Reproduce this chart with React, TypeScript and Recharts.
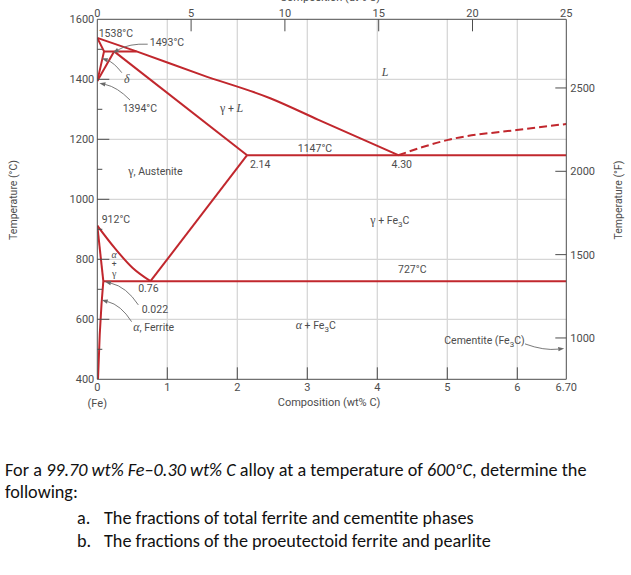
import React from "react";
import { ComposedChart, Line, XAxis, YAxis, CartesianGrid, ReferenceDot, ReferenceLine } from "recharts";

const RED = "#c1272d";
const INK = "#4d4d4d";
const SANS = "Roboto, 'Liberation Sans', sans-serif";
const SERIF = "'Liberation Serif', 'DejaVu Serif', serif";

// phase boundaries as [wt% C, °C]
const liquidus = [[0, 1538], [0.56, 1493], [1.5, 1414], [2.47, 1337], [3.16, 1265], [4.3, 1147]];
const liquidusFe3C = [[4.3, 1147], [4.66, 1175], [5.01, 1198], [5.99, 1231], [6.7, 1251]];
const deltaBound = [[0, 1538], [0.096, 1493], [0, 1394]];
const deltaGamma = [[0, 1394], [0.24, 1493]];
const peritectic = [[0.096, 1493], [0.56, 1493]];
const solidus = [[0.24, 1493], [2.14, 1147]];
const eutectic = [[2.14, 1147], [6.7, 1147]];
const a3 = [[0, 912], [0.25, 837], [0.51, 770], [0.76, 727]];
const acm = [[0.76, 727], [2.14, 1147]];
const ferriteSide = [[0, 912], [0.086, 727]];
const ferriteSolvus = [[0.086, 727], [0.06, 650], [0.035, 550], [0.01, 400]];
const eutectoid = [[0.086, 727], [6.7, 727]];

const wtTicks = [0, 1, 2, 3, 4, 5, 6, 6.7];
const atTicks = [0, 5, 10, 15, 20, 25];
const cTicks = [400, 500, 600, 700, 800, 900, 1000, 1100, 1200, 1300, 1400, 1500, 1600];
const fTicks = [1000, 1500, 2000, 2500];
const gridWt = [1, 2, 3, 4, 5, 6];
const gridC = [600, 800, 1000, 1200, 1400];
const WT_MAX = 6.7;
const AT_MAX = 25;

const labels = [
  { w: 0.02, t: 1555, text: "1538°C", anchor: "start" },
  { w: 0.75, t: 1522, text: "1493°C", anchor: "start" },
  { w: 0.42, t: 1401, text: "δ", anchor: "middle" },
  { w: 0.363, t: 1303, text: "1394°C", anchor: "start" },
  { w: 1.92, t: 1303, text: "γ + L", anchor: "middle" },
  { w: 4.11, t: 1422, text: "L", anchor: "middle" },
  { w: 3.11, t: 1170, text: "1147°C", anchor: "middle" },
  { w: 2.18, t: 1117, text: "2.14", anchor: "start" },
  { w: 4.35, t: 1117, text: "4.30", anchor: "middle" },
  { w: 0.83, t: 1095, text: "γ, Austenite", anchor: "middle" },
  { w: 0.063, t: 933, text: "912°C", anchor: "start" },
  { w: 4.18, t: 931, text: "γ + Fe3C", anchor: "middle" },
  { w: 0.24, t: 814, text: "α", anchor: "middle", size: 8.5 },
  { w: 0.24, t: 783, text: "+", anchor: "middle", size: 8.5 },
  { w: 0.24, t: 750, text: "γ", anchor: "middle", size: 8.5 },
  { w: 0.73, t: 704, text: "0.76", anchor: "middle" },
  { w: 0.634, t: 634, text: "0.022", anchor: "start" },
  { w: 0.514, t: 575, text: "α, Ferrite", anchor: "start" },
  { w: 4.5, t: 768, text: "727°C", anchor: "middle" },
  { w: 3.12, t: 581, text: "α + Fe3C", anchor: "middle" },
  { w: 5.53, t: 531, text: "Cementite (Fe3C)", anchor: "middle" },
];

const arrows = [
  { from: [0.72, 1517], to: [0.224, 1488], bend: 0.15 },
  { from: [0.35, 1422], to: [0.063, 1470], bend: 0.15 },
  { from: [0.467, 1331], to: [0.03, 1387], bend: 0.15 },
  { from: [0.586, 648], to: [0.11, 725], bend: 0.2 },
  { from: [0.49, 592], to: [0.063, 664], bend: 0.2 },
  { from: [6.11, 518], to: [6.67, 503], bend: 0.12 },
];

const boundaries = [
  { d: liquidus, curve: "monotone" },
  { d: liquidusFe3C, curve: "monotone", dash: "8 4" },
  { d: deltaBound, curve: "linear" },
  { d: deltaGamma, curve: "linear" },
  { d: peritectic, curve: "linear" },
  { d: solidus, curve: "linear" },
  { d: eutectic, curve: "linear" },
  { d: a3, curve: "monotone" },
  { d: acm, curve: "linear" },
  { d: ferriteSide, curve: "linear" },
  { d: ferriteSolvus, curve: "linear" },
  { d: eutectoid, curve: "linear" },
];

const pts = (a: number[][]) => a.map(([w, t]) => ({ w, t }));

function rich(s: string, size: number) {
  const parts = s.split(/(Fe3C|[αγδ]|\bL\b)/).filter(Boolean);
  return parts.map((p, i) => {
    if (p === "Fe3C")
      return (
        <tspan key={i}>
          Fe<tspan dy={3} fontSize={8}>3</tspan>
          <tspan dy={-3}>C</tspan>
        </tspan>
      );
    if (p === "α" || p === "δ" || p === "L")
      return <tspan key={i} fontFamily={SERIF} fontStyle="italic" fontSize={size + 1.5}>{p}</tspan>;
    if (p === "γ") return <tspan key={i} fontFamily={SERIF} fontSize={size + 1.5}>{p}</tspan>;
    return <tspan key={i}>{p}</tspan>;
  });
}

const labelShape = (text: string, anchor: string, size = 10.5) => (p: any) => (
  <text x={p.cx} y={p.cy + size * 0.36} textAnchor={anchor} fontFamily={SANS} fontSize={size} fill={INK}>
    {rich(text, size)}
  </text>
);

const arrowShape = (bend: number) => (p: any) => {
  const { x1, y1, x2, y2 } = p;
  const dx = x2 - x1, dy = y2 - y1;
  const len = Math.hypot(dx, dy) || 1;
  const cx = (x1 + x2) / 2 - (dy / len) * bend * len;
  const cy = (y1 + y2) / 2 + (dx / len) * bend * len;
  const tx = x2 - cx, ty = y2 - cy;
  const tl = Math.hypot(tx, ty) || 1;
  const ux = tx / tl, uy = ty / tl;
  const bx = x2 - ux * 6, by = y2 - uy * 6;
  return (
    <g>
      <path d={`M${x1},${y1} Q${cx},${cy} ${bx},${by}`} fill="none" stroke="#6a6a6a" strokeWidth={0.9} />
      <path d={`M${x2},${y2} L${bx - uy * 2.2},${by + ux * 2.2} L${bx + uy * 2.2},${by - ux * 2.2} Z`} fill="#6a6a6a" />
    </g>
  );
};

const tickText = { fontFamily: SANS, fontSize: 11, fill: INK };

const BottomTick = ({ x, y, payload }: any) => {
  const v = payload.value;
  return (
    <g>
      {v > 0 && v < 6.7 && <line x1={x} y1={y} x2={x} y2={y - 12} stroke={INK} strokeWidth={1} />}
      <text x={x} y={y + 12} textAnchor="middle" {...tickText}>{v === 6.7 ? "6.70" : v}</text>
      {v === 0 && <text x={x} y={y + 28} textAnchor="middle" {...tickText}>(Fe)</text>}
    </g>
  );
};

// top at% ticks, placed on the top edge of the plot through the chart's scales
const topTickShape = (v: number) => (p: any) => (
  <g>
    {v > 0 && v < AT_MAX && <line x1={p.cx} y1={p.cy} x2={p.cx} y2={p.cy + 12} stroke={INK} strokeWidth={1} />}
    <text x={p.cx} y={p.cy - 2} textAnchor="middle" {...tickText}>{v}</text>
  </g>
);

const LeftTick = ({ x, y, payload }: any) => {
  const v = payload.value;
  const major = v % 200 === 0;
  return (
    <g>
      {v > 400 && v < 1600 && <line x1={x} y1={y} x2={x + (major ? 12 : 5)} y2={y} stroke={INK} strokeWidth={1} />}
      {major && <text x={x - 3} y={y + 4} textAnchor="end" {...tickText}>{v}</text>}
    </g>
  );
};

const RightTick = ({ x, y, payload }: any) => (
  <g>
    <line x1={x} y1={y} x2={x - 11} y2={y} stroke={INK} strokeWidth={1} />
    <text x={x + 4} y={y + 4} textAnchor="start" {...tickText}>{payload.value}</text>
  </g>
);

const qStyle: React.CSSProperties = {
  position: "absolute",
  fontFamily: "Carlito, Lato, sans-serif",
  fontSize: 18.2,
  lineHeight: "22px",
  color: "#111",
  whiteSpace: "nowrap",
};

export default function App() {
  return (
    <div style={{ position: "absolute", left: 0, top: 0, width: 631, height: 575, background: "#fff" }}>
      <ComposedChart width={631} height={575} margin={{ top: 9.3, right: 24.7, bottom: 165.7, left: 57.3 }}>
        <CartesianGrid verticalValues={gridWt} horizontalValues={gridC} stroke="#d6d6d6" strokeWidth={1.3} />
        <XAxis
          type="number" dataKey="w" domain={[0, WT_MAX]} ticks={wtTicks} allowDataOverflow interval={0}
          height={30} tickSize={0} tickMargin={0} tickLine={false} axisLine={{ stroke: INK }}
          tick={(p: any) => <BottomTick {...p} />}
        />
        <XAxis
          xAxisId="at" orientation="top" type="number" domain={[0, AT_MAX]} allowDataOverflow
          height={10} tick={false} tickLine={false} axisLine={{ stroke: INK }}
        />
        <YAxis
          type="number" domain={[400, 1600]} ticks={cTicks} allowDataOverflow interval={0}
          width={40} tickSize={0} tickMargin={0} tickLine={false} axisLine={{ stroke: INK }}
          tick={(p: any) => <LeftTick {...p} />}
        />
        <YAxis
          yAxisId="f" orientation="right" type="number" domain={[752, 2912]} ticks={fTicks} allowDataOverflow interval={0}
          width={40} tickSize={0} tickMargin={0} tickLine={false} axisLine={{ stroke: INK }}
          tick={(p: any) => <RightTick {...p} />}
        />
        {boundaries.map((b, i) => (
          <Line
            key={i} data={pts(b.d)} dataKey="t" type={b.curve as any} stroke={RED} strokeWidth={2}
            strokeDasharray={b.dash} dot={false} activeDot={false} isAnimationActive={false}
          />
        ))}
        {atTicks.map((a) => (
          <ReferenceDot key={"t" + a} x={(a * WT_MAX) / AT_MAX} y={1600} r={0} shape={topTickShape(a)} />
        ))}
        {arrows.map((a, i) => (
          <ReferenceLine
            key={"a" + i}
            segment={[{ x: a.from[0], y: a.from[1] }, { x: a.to[0], y: a.to[1] }]}
            shape={arrowShape(a.bend)}
          />
        ))}
        {labels.map((l, i) => (
          <ReferenceDot key={"l" + i} x={l.w} y={l.t} r={0} shape={labelShape(l.text, l.anchor, l.size)} />
        ))}
      </ComposedChart>
      <svg width={631} height={575} style={{ position: "absolute", left: 0, top: 0, pointerEvents: "none" }}>
        <text x={330} y={1} textAnchor="middle" {...tickText}>Composition (at% C)</text>
        <text x={329} y={406} textAnchor="middle" {...tickText}>Composition (wt% C)</text>
        <text transform="translate(17,200) rotate(-90)" textAnchor="middle" {...tickText} fontSize={10.5}>Temperature (°C)</text>
        <text transform="translate(622,200) rotate(-90)" textAnchor="middle" {...tickText} fontSize={10.5}>Temperature (°F)</text>
      </svg>
      <div style={{ ...qStyle, left: 5, top: 459 }}>
        For a <i>99.70 wt% Fe–0.30 wt% C</i> alloy at a temperature of <i>600ºC</i>, determine the
      </div>
      <div style={{ ...qStyle, left: 5, top: 481 }}>following:</div>
      <div style={{ ...qStyle, left: 77, top: 507 }}>a.</div>
      <div style={{ ...qStyle, left: 104, top: 507 }}>The fractions of total ferrite and cementite phases</div>
      <div style={{ ...qStyle, left: 77, top: 530 }}>b.</div>
      <div style={{ ...qStyle, left: 104, top: 530 }}>The fractions of the proeutectoid ferrite and pearlite</div>
    </div>
  );
}
